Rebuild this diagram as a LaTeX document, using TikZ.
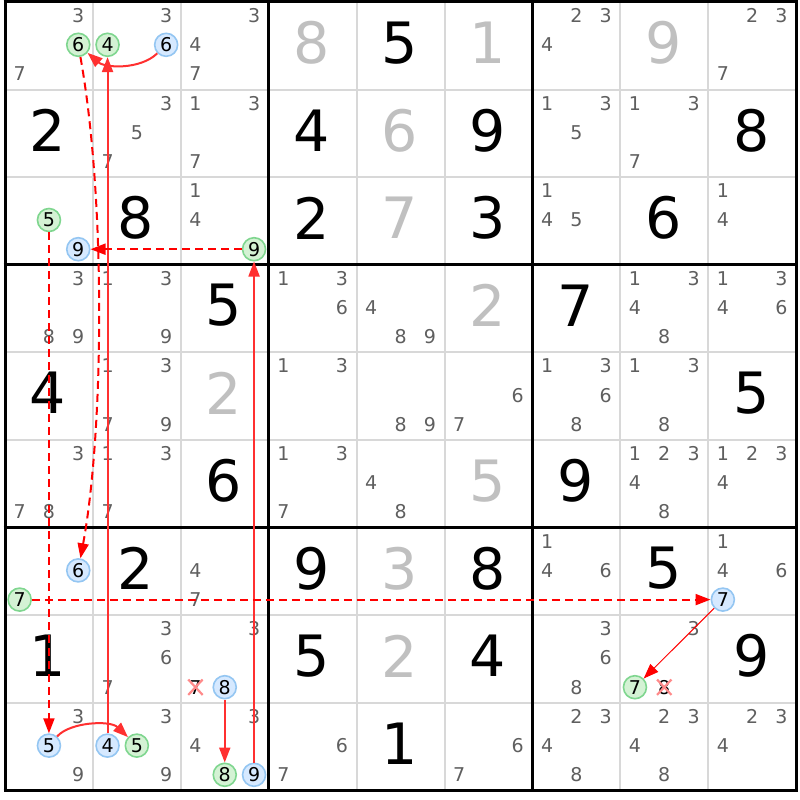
\documentclass[tikz,border=0pt]{standalone}
\usepackage{fontspec}
\setmainfont{DejaVu Sans}
\usetikzlibrary{arrows.meta}
\definecolor{candc}{HTML}{5F5F5F}
\definecolor{placedc}{HTML}{C0C0C0}
\definecolor{gridc}{HTML}{D8D8D8}
\definecolor{gfill}{HTML}{D4F2D4}
\definecolor{gline}{HTML}{7FD68F}
\definecolor{bfill}{HTML}{D6E9FF}
\definecolor{bline}{HTML}{94C6F2}
\definecolor{arrowc}{HTML}{FF0000}
\definecolor{solidc}{HTML}{FF3030}
\definecolor{xc}{HTML}{FF8A8A}

\newcommand\setcxy[3]{%
 \pgfmathsetmacro\cx{5+(#2-1)*87.9+(mod(#3-1,3)+0.5)*29.3}%
 \pgfmathsetmacro\cy{2+(#1-1)*87.6+(floor((#3-1)/3)+0.5)*29.2-1}}
\newcommand\setbxy[2]{%
 \pgfmathsetmacro\bx{5+(#2-0.5)*87.9-1}%
 \pgfmathsetmacro\by{2+(#1-0.5)*87.6-3}}
\newcommand\cands[3]{\foreach \d in {#3}{\setcxy{#1}{#2}{\d}\node[cand] (c#1#2\d) at (\cx,\cy) {\d};}}
\newcommand\givenD[3]{\setbxy{#1}{#2}\node[givenst] (v#1#2) at (\bx,\by) {#3};}
\newcommand\placedD[3]{\setbxy{#1}{#2}\node[placedst] (v#1#2) at (\bx,\by) {#3};}
\newcommand\circD[5]{\setcxy{#2}{#3}{#4}\node[#1] (#5) at (\cx,\cy) {#4};}
\newcommand\crossD[3]{\setcxy{#1}{#2}{#3}\node[xcand] (x#1#2#3) at (\cx,\cy) {#3};
  \draw[xmark] (x#1#2#3.north west) -- (x#1#2#3.south east) (x#1#2#3.south west) -- (x#1#2#3.north east);}

\tikzset{
 cand/.style={font=\fontsize{19}{19}\selectfont, text=candc, inner sep=0pt},
 givenst/.style={font=\fontsize{57}{57}\selectfont, text=black, inner sep=0pt},
 placedst/.style={font=\fontsize{57}{57}\selectfont, text=placedc, inner sep=0pt},
 gcirc/.style={circle, draw=gline, fill=gfill, line width=1.6pt, minimum size=23pt, inner sep=0pt, font=\fontsize{19}{19}\selectfont, text=black},
 bcirc/.style={circle, draw=bline, fill=bfill, line width=1.6pt, minimum size=23pt, inner sep=0pt, font=\fontsize{19}{19}\selectfont, text=black},
 xcand/.style={font=\fontsize{19}{19}\selectfont, text=black, inner sep=0pt, minimum width=14pt, minimum height=15pt},
 xmark/.style={color=xc, line width=2.2pt},
 gridthin/.style={color=gridc, line width=2pt},
 gridthick/.style={color=black, line width=3pt},
 strongarrow/.style={color=solidc, line width=2pt, -{Triangle[length=15pt,width=11pt]}},
 thinarrow/.style={color=arrowc, line width=1pt, -{Triangle[length=15pt,width=11pt]}},
 weakarrow/.style={color=arrowc, line width=2pt, dash pattern=on 8pt off 5pt, -{Triangle[length=15pt,width=11pt]}},
}

\begin{document}
\begin{tikzpicture}[x=1pt,y=-1pt]
\useasboundingbox (0,0) rectangle (800,800);
\fill[white] (0,0) rectangle (800,800);
% grid
\foreach \i in {1,2,4,5,7,8}{
  \draw[gridthin] ({5+\i*87.9},2) -- ({5+\i*87.9},790.4);
  \draw[gridthin] (5,{2+\i*87.6}) -- (796.1,{2+\i*87.6});
}
\foreach \i in {0,3,6,9}{
  \draw[gridthick] ({5+\i*87.9},0.5) -- ({5+\i*87.9},791.9);
  \draw[gridthick] (3.5,{2+\i*87.6}) -- (797.6,{2+\i*87.6});
}
% givens
\givenD{1}{5}{5}
\givenD{2}{1}{2}\givenD{2}{4}{4}\givenD{2}{6}{9}\givenD{2}{9}{8}
\givenD{3}{2}{8}\givenD{3}{4}{2}\givenD{3}{6}{3}\givenD{3}{8}{6}
\givenD{4}{3}{5}\givenD{4}{7}{7}
\givenD{5}{1}{4}\givenD{5}{9}{5}
\givenD{6}{3}{6}\givenD{6}{7}{9}
\givenD{7}{2}{2}\givenD{7}{4}{9}\givenD{7}{6}{8}\givenD{7}{8}{5}
\givenD{8}{1}{1}\givenD{8}{4}{5}\givenD{8}{6}{4}\givenD{8}{9}{9}
\givenD{9}{5}{1}
% placed
\placedD{1}{4}{8}\placedD{1}{6}{1}\placedD{1}{8}{9}
\placedD{2}{5}{6}\placedD{3}{5}{7}
\placedD{4}{6}{2}\placedD{5}{3}{2}\placedD{6}{6}{5}
\placedD{7}{5}{3}\placedD{8}{5}{2}
% candidates
\cands{1}{1}{3,7}\cands{1}{2}{3}\cands{1}{3}{3,4,7}\cands{1}{7}{2,3,4}\cands{1}{9}{2,3,7}
\cands{2}{2}{3,5,7}\cands{2}{3}{1,3,7}\cands{2}{7}{1,3,5}\cands{2}{8}{1,3,7}
\cands{3}{3}{1,4}\cands{3}{7}{1,4,5}\cands{3}{9}{1,4}
\cands{4}{1}{3,8,9}\cands{4}{2}{1,3,9}\cands{4}{4}{1,3,6}\cands{4}{5}{4,8,9}\cands{4}{8}{1,3,4,8}\cands{4}{9}{1,3,4,6}
\cands{5}{2}{1,3,7,9}\cands{5}{4}{1,3}\cands{5}{5}{8,9}\cands{5}{6}{6,7}\cands{5}{7}{1,3,6,8}\cands{5}{8}{1,3,8}
\cands{6}{1}{3,7,8}\cands{6}{2}{1,3,7}\cands{6}{4}{1,3,7}\cands{6}{5}{4,8}\cands{6}{8}{1,2,3,4,8}\cands{6}{9}{1,2,3,4}
\cands{7}{3}{4,7}\cands{7}{7}{1,4,6}\cands{7}{9}{1,4,6}
\cands{8}{2}{3,6,7}\cands{8}{3}{3}\cands{8}{7}{3,6,8}\cands{8}{8}{3}
\cands{9}{1}{3,9}\cands{9}{2}{3,9}\cands{9}{3}{3,4}\cands{9}{4}{6,7}\cands{9}{6}{6,7}\cands{9}{7}{2,3,4,8}\cands{9}{8}{2,3,4,8}\cands{9}{9}{2,3,4}
% crossed
\crossD{8}{3}{7}\crossD{8}{8}{8}
% circled
\circD{gcirc}{1}{1}{6}{gA}
\circD{bcirc}{1}{2}{6}{bA}
\circD{gcirc}{1}{2}{4}{gB}
\circD{gcirc}{3}{1}{5}{gC}
\circD{bcirc}{3}{1}{9}{bC}
\circD{gcirc}{3}{3}{9}{gD}
\circD{bcirc}{7}{1}{6}{bE}
\circD{gcirc}{7}{1}{7}{gE}
\circD{bcirc}{7}{9}{7}{bF}
\circD{bcirc}{8}{3}{8}{bG}
\circD{gcirc}{8}{8}{7}{gH}
\circD{bcirc}{9}{1}{5}{bI}
\circD{bcirc}{9}{2}{4}{bJ}
\circD{gcirc}{9}{2}{5}{gJ}
\circD{gcirc}{9}{3}{8}{gK}
\circD{bcirc}{9}{3}{9}{bK}
% links
\draw[strongarrow] (bA) .. controls (140,70) and (105,68) .. (gA);
\draw[weakarrow] (gA) .. controls (106,200) and (104,430) .. (bE);
\draw[strongarrow] (bJ) -- (gB);
\draw[strongarrow] (bK) -- (gD);
\draw[weakarrow] (gD) -- (bC);
\draw[weakarrow] (gC) -- (bI);
\draw[weakarrow] (gE) -- (bF);
\draw[thinarrow] (bF) -- (gH);
\draw[strongarrow] (bI) .. controls (70,722) and (110,720) .. (gJ);
\draw[strongarrow] (bG) -- (gK);
\end{tikzpicture}
\end{document}
